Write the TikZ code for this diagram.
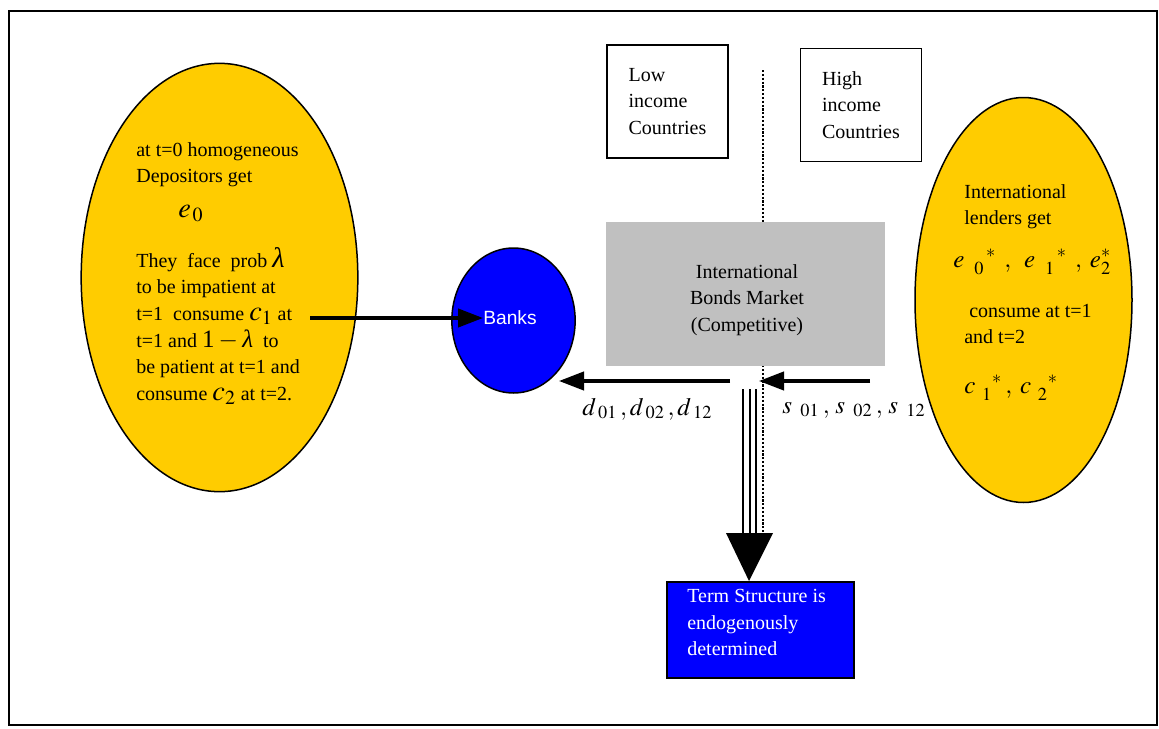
\documentclass[tikz,border=0pt]{standalone}
\usepackage{mathptmx}
\usepackage[no-math]{fontspec}
\setmainfont{Liberation Serif}
\setsansfont{Liberation Sans}
\usetikzlibrary{shapes.geometric,arrows.meta}
\definecolor{gold}{RGB}{255,204,0}
\definecolor{pureblue}{RGB}{0,0,255}
\definecolor{bondgray}{RGB}{192,192,192}
\DeclareMathSizes{15}{15}{11}{9}
\DeclareMathSizes{17}{17}{12}{9}
\newcommand\eqsize{\fontsize{15}{16}\selectfont}
\newcommand\eqbig{\fontsize{17}{16}\selectfont}
\tikzset{
  pool/.style={ellipse, draw, fill=gold, line width=0.9pt, inner sep=0pt},
  txt/.style={anchor=north west, inner sep=0pt, align=left, font=\fontsize{12}{16}\selectfont},
  mth/.style={anchor=base west, inner sep=0pt, font=\eqsize},
  country/.style={draw, line width=0.8pt, minimum width=72.6pt, minimum height=67.8pt, align=left, font=\fontsize{12}{16}\selectfont},
  flow/.style={line width=1.9pt, -{Triangle[length=15pt,width=11pt]}},
}
\begin{document}
\begin{tikzpicture}[x=0.6pt, y=-0.6pt]
    \useasboundingbox (0,0) rectangle (1159,729);
    \draw[line width=0.9pt] (9,11) rectangle (1157,725);

    % depositors
    \node[pool, minimum width=166pt, minimum height=257pt] (dep) at (219.5,277.5) {};
    \node[txt] (deptop) at (136,142) {at t=0 homogeneous\\Depositors get};
    \node[mth, font=\eqbig] (e0) at (178,217) {$e_{\hspace{1pt}0}$};
    \node[txt] (depbot) at (136,247) {They\ \ face\ \ prob {\eqbig\textit{λ}}\\to be impatient at\\t=1\ \ consume {\eqbig$c_1$} at\\t=1 and\ {\eqsize 1\,$-$\,\textit{λ}}\ \ to\\be patient at t=1 and\\consume {\eqbig$c_2$} at t=2.};

    % banks
    \node[ellipse, draw, fill=pureblue, line width=0.9pt, minimum width=74pt, minimum height=87pt] (banks) at (513.5,320.5) {};
    \node[anchor=west, inner sep=0pt, text=white, font=\sffamily\fontsize{11.5}{13}\selectfont] (banktxt) at (483,318) {Banks};
    \coordinate (dstart) at (310,318);
    \draw[flow] (dstart) -- (banktxt.west);

    % market
    \draw[line width=1.3pt, densely dotted] (763,70) -- (763,533);
    \node[fill=bondgray, minimum width=167.4pt, minimum height=86.4pt, inner sep=0pt] (ibm) at (745.5,294) {};
    \node[txt, anchor=north, align=center] (ibmtxt) at (747,264) {International\\Bonds Market\\(Competitive)};
    \node[country] (low) at (667.5,101.5) {Low\\income\\Countries};
    \node[country] (high) at (861,105) {High\\income\\Countries};

    \coordinate (dfrom) at (730,381);
    \coordinate (dto) at (559,381);
    \draw[flow] (dfrom) -- (dto);
    \coordinate (sfrom) at (870,381);
    \coordinate (sto) at (759,381);
    \draw[flow] (sfrom) -- (sto);
    \node[mth] (dlbl) at (582,415) {$d_{\hspace{2pt}01}\,,d_{\hspace{2pt}02}\,,d_{\hspace{2pt}12}$};
    \node[mth] (slbl) at (782,413) {$s_{\hspace{5pt}01}\hspace{2pt},\,s_{\hspace{5pt}02}\hspace{2pt},\,s_{\hspace{5pt}12}$};

    % term structure
    \foreach \x in {743,750,756}
        \draw[line width=1.7pt] (\x,389) -- (\x,533);
    \fill (726,533) -- (773,533) -- (749,581) -- cycle;
    \node[draw, fill=pureblue, line width=0.9pt, minimum width=112.2pt, minimum height=57.6pt] (term) at (760.5,630) {};
    \node[txt, text=white] (termtxt) at (687,589) {Term Structure is\\endogenously\\determined};

    % lenders
    \node[pool, minimum width=130.2pt, minimum height=243pt] (lend) at (1023.5,300) {};
    \node[txt] (lendtop) at (964,184) {International\\lenders get};
    \node[mth] (erow) at (953,267) {$e_{\hspace{6pt}0}^{\hspace{13pt}*}\hspace{5pt},\hspace{6pt}e_{\hspace{6pt}1}^{\hspace{13pt}*}\hspace{5pt},\hspace{3pt}e_{2}^{*}$};
    \node[txt] (lendmid) at (964,303.5) {\ consume\ at t=1\\and t=2};
    \node[mth] (crow) at (964,393) {$c_{\hspace{4pt}1}^{\hspace{10pt}*}\hspace{2pt},\hspace{3pt}c_{\hspace{4pt}2}^{\hspace{10pt}*}$};
\end{tikzpicture}
\end{document}
